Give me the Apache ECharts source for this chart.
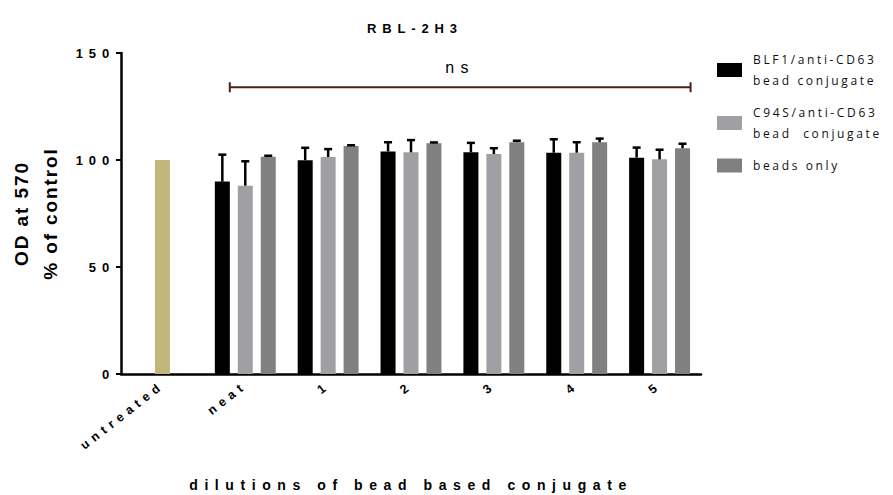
<!DOCTYPE html>
<html>
<head>
<meta charset="utf-8">
<script src="https://cdn.jsdelivr.net/npm/echarts@6/dist/echarts.min.js"></script>
<style>
  html, body { margin: 0; padding: 0; background: #fff; }
  #chart { width: 893px; height: 495px; }
  /* wide tracking on the chart lettering, lighter tracking in the legend and y title */
  #chart text { letter-spacing: 0.4em; }
  #chart text[style*="13px"] { letter-spacing: 0.45em; }
  #chart text[style*="14px"] { letter-spacing: 0.47em; }
  #chart text[style*="Open"] { letter-spacing: 0.22em; }
  #chart text[style*="19px"] { letter-spacing: 0.1em; }
</style>
</head>
<body>
<div id="chart"></div>
<script>
// Dilution groups on the x axis
const categories = ['untreated', 'neat', '1', '2', '3', '4', '5'];

// Untreated control (shown only in the first group)
const untreatedMean = [100, '-', '-', '-', '-', '-', '-'];

// BLF1/anti-CD63 bead conjugate: mean and upper error
const blf1Mean = ['-', 89.9, 99.9, 104.0, 103.6, 103.4, 101.1];
const blf1Err  = [0, 12.6, 5.8, 4.3, 4.4, 6.3, 4.7];

// C94S/anti-CD63 bead conjugate
const c94sMean = ['-', 88.0, 101.4, 103.6, 102.8, 103.4, 100.3];
const c94sErr  = [0, 11.4, 3.7, 5.7, 2.7, 4.9, 4.5];

// Beads only
const beadsMean = ['-', 101.5, 106.5, 107.8, 108.3, 108.3, 105.5];
const beadsErr  = [0, 0.5, 0.4, 0.4, 0.7, 1.7, 2.1];

// Y axis ticks
const yTicks = [0, 50, 100, 150];

// Significance bracket (value level and label)
const bracketLevel = 134;
const bracketLabel = 'ns';

const seriesNames = [
  'BLF1/anti-CD63\nbead conjugate',
  'C94S/anti-CD63\nbead  conjugate',
  'beads only'
];

const BAR_WIDTH = 15;
const BAR_GAP = 0.53;
const BAR_STEP = BAR_WIDTH * (1 + BAR_GAP);
const CAP_WIDTH = 8;

// Error-bar records: [category index, mean, error, slot in group]
const errorData = [];
[[blf1Mean, blf1Err, 0], [c94sMean, c94sErr, 1], [beadsMean, beadsErr, 2]].forEach(([m, e, slot]) => {
  m.forEach((v, i) => { if (v !== '-') errorData.push([i, v, e[i], slot]); });
});

const chart = echarts.init(document.getElementById('chart'), null, { renderer: 'svg' });

const boldText = { fontFamily: 'Liberation Sans', fontWeight: 'bold', color: '#000' };

chart.setOption({
  animation: false,
  backgroundColor: '#fff',
  title: {
    text: 'RBL-2H3',
    left: 362,
    top: 17,
    textStyle: { ...boldText, fontSize: 13 }
  },
  legend: {
    orient: 'vertical',
    left: 712,
    top: 44,
    itemWidth: 25,
    itemHeight: 14,
    itemGap: 11,
    icon: 'rect',
    data: seriesNames,
    selectedMode: false,
    textStyle: { fontFamily: 'Open Sans', fontSize: 12, lineHeight: 21, color: '#111', padding: [0, 0, 0, 6] }
  },
  grid: { left: 121, right: 192, top: 53, bottom: 121, containLabel: false, outerBoundsMode: 'none' },
  xAxis: {
    type: 'category',
    data: categories,
    boundaryGap: true,
    name: 'dilutions of bead based conjugate',
    nameLocation: 'middle',
    nameGap: 104,
    nameTextStyle: { ...boldText, fontSize: 14 },
    axisLine: { lineStyle: { color: '#000', width: 2.5 } },
    axisTick: { alignWithLabel: true, length: 5, lineStyle: { color: '#000', width: 2 } },
    axisLabel: { ...boldText, fontSize: 12.5, rotate: 38, margin: 10, interval: 0 }
  },
  yAxis: {
    type: 'value',
    min: yTicks[0],
    max: yTicks[yTicks.length - 1],
    interval: yTicks[1] - yTicks[0],
    name: 'OD at 570\n% of control',
    nameLocation: 'middle',
    nameRotate: 90,
    nameGap: 56,
    nameTextStyle: { ...boldText, fontSize: 19, lineHeight: 29 },
    splitLine: { show: false },
    axisLine: { show: true, lineStyle: { color: '#000', width: 2.5 } },
    axisTick: { show: true, length: 5, lineStyle: { color: '#000', width: 2 } },
    axisLabel: { ...boldText, fontSize: 13, margin: 6 }
  },
  series: [
    {
      name: seriesNames[0], type: 'bar', data: blf1Mean,
      barWidth: BAR_WIDTH, barGap: (BAR_GAP * 100) + '%',
      itemStyle: { color: '#000000' }
    },
    {
      name: 'untreated', type: 'bar', stack: 'mid', data: untreatedMean,
      barWidth: BAR_WIDTH, barGap: (BAR_GAP * 100) + '%',
      itemStyle: { color: '#c2b77b' }
    },
    {
      name: seriesNames[1], type: 'bar', stack: 'mid', data: c94sMean,
      barWidth: BAR_WIDTH, barGap: (BAR_GAP * 100) + '%',
      itemStyle: { color: '#a0a0a4' }
    },
    {
      name: seriesNames[2], type: 'bar', data: beadsMean,
      barWidth: BAR_WIDTH, barGap: (BAR_GAP * 100) + '%',
      itemStyle: { color: '#808080' }
    },
    {
      name: 'error bars', type: 'custom', silent: true, z: 5,
      data: errorData,
      encode: { x: 0, y: 1 },
      renderItem(params, api) {
        const cat = api.value(0), mean = api.value(1), err = api.value(2), slot = api.value(3);
        const base = api.coord([cat, mean]);
        const top = api.coord([cat, mean + err]);
        const x = base[0] + (slot - 1) * BAR_STEP;
        const st = { stroke: '#000', lineWidth: 2.5 };
        return {
          type: 'group',
          children: [
            { type: 'line', shape: { x1: x, y1: base[1], x2: x, y2: top[1] }, style: st },
            { type: 'line', shape: { x1: x - CAP_WIDTH / 2, y1: top[1], x2: x + CAP_WIDTH / 2, y2: top[1] }, style: st }
          ]
        };
      }
    },
    {
      name: 'bracket', type: 'custom', silent: true, z: 5,
      data: [[1, 6, bracketLevel]],
      renderItem(params, api) {
        const a = api.coord([api.value(0), api.value(2)]);
        const b = api.coord([api.value(1), api.value(2)]);
        const x1 = a[0] - 15.5, x2 = b[0] + 31, y = a[1];
        const st = { stroke: '#4e1c1c', lineWidth: 2 };
        return {
          type: 'group',
          children: [
            { type: 'line', shape: { x1: x1, y1: y, x2: x2, y2: y }, style: st },
            { type: 'line', shape: { x1: x1, y1: y - 5, x2: x1, y2: y + 5 }, style: st },
            { type: 'line', shape: { x1: x2, y1: y - 5, x2: x2, y2: y + 5 }, style: st },
            {
              type: 'text',
              style: {
                x: (x1 + x2) / 2, y: y - 20, text: bracketLabel,
                fontFamily: 'Liberation Sans', fontSize: 16, fill: '#000',
                align: 'center', verticalAlign: 'middle'
              }
            }
          ]
        };
      }
    }
  ]
});
</script>
</body>
</html>
